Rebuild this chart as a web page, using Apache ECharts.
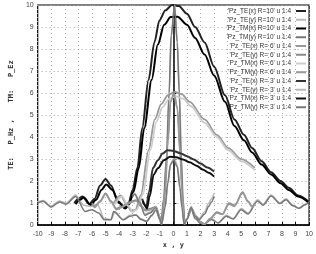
<!DOCTYPE html>
<html>
<head>
<meta charset="utf-8">
<script src="https://cdn.jsdelivr.net/npm/echarts@6/dist/echarts.min.js"></script>
<style>
  html, body { margin: 0; padding: 0; background: #fff; }
  #chart { width: 316px; height: 254px; }
</style>
</head>
<body>
<div id="chart"></div>
<script>
// legend names, in plot order
var names = [
    "'Pz_TE(x) R=10' u 1:4", "'Pz_TE(y) R=10' u 1:4",
    "'Pz_TM(x) R=10' u 1:4", "'Pz_TM(y) R=10' u 1:4",
    "'Pz_TE(x) R= 6' u 1:4", "'Pz_TE(y) R= 6' u 1:4",
    "'Pz_TM(x) R= 6' u 1:4", "'Pz_TM(y) R= 6' u 1:4",
    "'Pz_TE(x) R= 3' u 1:4", "'Pz_TE(y) R= 3' u 1:4",
    "'Pz_TM(x) R= 3' u 1:4", "'Pz_TM(y) R= 3' u 1:4"
];
var colors = ["#222", "#bbb", "#000", "#777", "#999", "#888",
              "#ccc", "#9a9a9a", "#333", "#bbb", "#111", "#777"];

// R=10
var te_x_10 = [[-7.3,1.0],[-7.0,1.2],[-6.7,1.3],[-6.2,0.95],[-5.8,1.2],[-5.4,1.8],[-5.0,2.1],[-4.6,1.8],[-4.1,1.1],[-3.6,0.8],[-3.3,1.0],[-3.0,1.6],[-2.65,2.6],[-2.3,4.4],[-1.83,6.6],[-1.4,8.3],[-1.03,9.3],[-0.6,9.75],[-0.1,10.0],[0.4,9.95],[1.0,9.6],[1.6,9.0],[2.3,8.3],[3.0,7.2],[3.8,5.9],[4.5,4.8],[5.2,4.1],[5.8,3.5],[6.5,2.9],[7.2,2.4],[7.9,2.0],[8.5,1.7],[9.2,1.35],[10.0,1.05]];
var te_y_10 = [[-10,1.05],[-9.6,1.12],[-9.0,0.85],[-8.4,1.1],[-7.9,1.0],[-7.2,1.37],[-6.6,0.9],[-6.1,0.85],[-5.6,0.95],[-5.1,0.3],[-4.6,0.25],[-4.3,0.6],[-3.7,0.25],[-3.2,0.45],[-2.75,0.46],[-2.4,0.3],[-2.0,0.17],[-1.6,0.4],[-1.3,0.7],[-1.0,0.3],[-0.9,0.05],[-0.7,1.2],[-0.5,3.0],[-0.3,6.0],[-0.15,8.6],[0.1,10],[0.3,8.3],[0.45,6.0],[0.6,3.0],[0.72,1.2],[0.85,0.05],[1.0,0.3],[1.3,0.8],[1.6,0.35],[2.0,0.1],[2.3,0.05],[2.8,0.3],[3.3,0.1],[3.9,0.45],[4.4,0.3],[5.0,0.75],[5.5,0.55],[6.2,1.15],[6.6,0.95],[7.2,1.37],[7.85,1.0],[8.3,1.2],[8.8,0.9],[9.25,0.78],[9.7,0.95],[10,1.07]];
var tm_x_10 = [[-7.2,0.95],[-6.9,1.15],[-6.6,1.25],[-6.1,0.92],[-5.7,1.15],[-5.3,1.6],[-4.95,1.85],[-4.5,1.6],[-4.0,1.0],[-3.55,0.75],[-3.25,0.95],[-2.95,1.5],[-2.55,2.6],[-2.15,4.4],[-1.6,6.6],[-1.15,8.2],[-0.68,9.1],[-0.2,9.45],[0.3,9.47],[1.0,9.1],[1.6,8.5],[2.3,7.75],[3.0,6.8],[3.8,5.6],[4.5,4.5],[5.2,3.85],[5.8,3.3],[6.5,2.75],[7.2,2.3],[7.9,1.9],[8.5,1.6],[9.2,1.3],[10.0,1.0]];
var tm_y_10 = [[-10,1.0],[-9.6,1.08],[-9.0,0.82],[-8.4,1.05],[-7.9,0.95],[-7.2,1.3],[-6.5,0.62],[-6.0,0.7],[-5.5,0.55],[-5.1,0.24],[-4.6,0.24],[-4.4,0.62],[-3.7,0.24],[-3.2,0.4],[-2.75,0.46],[-2.4,0.25],[-1.97,0.17],[-1.6,0.45],[-1.28,0.69],[-1.0,0.25],[-0.92,0.05],[-0.72,1.2],[-0.52,3.0],[-0.32,6.0],[-0.17,8.6],[0.08,9.95],[0.28,8.3],[0.43,6.0],[0.58,3.0],[0.7,1.2],[0.83,0.05],[1.0,0.25],[1.3,0.75],[1.6,0.3],[2.0,0.08],[2.3,0.05],[2.8,0.25],[3.3,0.1],[3.9,0.4],[4.4,0.28],[5.0,0.7],[5.5,0.5],[6.2,1.1],[6.6,0.9],[7.2,1.32],[7.85,0.98],[8.3,1.15],[8.8,0.88],[9.25,0.76],[9.7,0.92],[10,1.05]];

// R=6
var te_x_6 = [[-4.4,1.0],[-3.9,1.35],[-3.4,0.9],[-3.1,0.63],[-2.8,0.7],[-2.4,1.36],[-1.83,3.4],[-1.37,4.8],[-0.9,5.5],[-0.4,5.9],[0.1,6.05],[0.6,5.95],[1.2,5.6],[2.3,4.8],[3.2,4.1],[4.05,3.5],[5.0,3.0],[6.0,2.6]];
var te_y_6 = [[-6.0,1.0],[-5.8,0.85],[-5.4,1.1],[-5.0,1.45],[-4.6,1.1],[-4.2,0.75],[-3.8,0.85],[-3.4,1.0],[-3.0,1.1],[-2.75,1.14],[-2.4,0.9],[-2.06,0.69],[-1.7,0.75],[-1.28,0.85],[-1.0,0.4],[-0.85,0.05],[-0.6,1.5],[-0.4,3.8],[-0.2,5.6],[0.05,6.05],[0.3,5.3],[0.5,3.3],[0.65,1.5],[0.8,0.1],[1.0,0.3],[1.35,0.75],[1.7,0.4],[2.0,0.15],[2.3,0.05],[2.7,0.3],[3.2,0.6],[3.6,0.5],[4.1,1.0],[4.5,0.9],[5.1,1.5],[5.5,1.1],[5.8,0.85],[6.0,1.0]];
var tm_x_6 = [[-4.3,0.95],[-3.8,1.3],[-3.3,0.85],[-3.0,0.6],[-2.7,0.7],[-2.25,1.4],[-1.7,3.4],[-1.25,4.7],[-0.8,5.35],[-0.3,5.75],[0.2,5.85],[0.7,5.75],[1.3,5.4],[2.3,4.65],[3.2,4.0],[4.05,3.4],[5.0,2.9],[6.0,2.5]];
var tm_y_6 = [[-6.0,0.95],[-5.8,0.8],[-5.4,1.05],[-5.0,1.4],[-4.6,1.05],[-4.2,0.7],[-3.8,0.8],[-3.4,0.95],[-3.0,1.05],[-2.75,1.1],[-2.4,0.85],[-2.06,0.65],[-1.7,0.7],[-1.28,0.8],[-1.0,0.35],[-0.87,0.05],[-0.62,1.5],[-0.42,3.8],[-0.22,5.6],[0.03,5.95],[0.28,5.3],[0.48,3.3],[0.63,1.5],[0.78,0.1],[1.0,0.28],[1.35,0.7],[1.7,0.38],[2.0,0.12],[2.3,0.05],[2.7,0.28],[3.2,0.55],[3.6,0.48],[4.1,0.95],[4.5,0.85],[5.1,1.45],[5.5,1.05],[5.8,0.82],[6.0,0.95]];

// R=3
var te_x_3 = [[-2.3,1.2],[-2.15,0.95],[-2.0,0.8],[-1.8,1.5],[-1.5,2.6],[-1.14,2.95],[-0.8,3.25],[-0.45,3.4],[0,3.37],[0.5,3.27],[1.0,3.13],[1.5,2.98],[2.0,2.8],[2.5,2.62],[3.0,2.43]];
var te_y_3 = [[-3.0,1.35],[-2.85,1.45],[-2.5,1.1],[-2.1,0.5],[-1.7,0.6],[-1.3,0.85],[-1.0,0.35],[-0.85,0.05],[-0.6,0.8],[-0.4,1.9],[-0.2,2.8],[0.05,3.05],[0.3,2.7],[0.5,1.7],[0.65,0.8],[0.8,0.05],[1.0,0.3],[1.3,0.85],[1.6,0.45],[1.9,0.3],[2.3,0.6],[2.6,1.0],[2.8,1.2],[3.0,1.45]];
var tm_x_3 = [[-2.25,1.1],[-2.1,0.9],[-1.95,0.75],[-1.75,1.3],[-1.45,2.3],[-1.14,2.58],[-0.7,2.95],[-0.24,3.1],[0.2,3.08],[0.7,2.98],[1.2,2.85],[1.7,2.7],[2.2,2.52],[2.6,2.38],[3.0,2.2]];
var tm_y_3 = [[-3.0,1.3],[-2.85,1.4],[-2.5,1.05],[-2.1,0.45],[-1.7,0.55],[-1.3,0.8],[-1.0,0.3],[-0.87,0.05],[-0.62,0.8],[-0.42,1.9],[-0.22,2.75],[0.03,2.95],[0.28,2.65],[0.48,1.7],[0.63,0.8],[0.78,0.05],[1.0,0.28],[1.3,0.8],[1.6,0.4],[1.9,0.25],[2.3,0.5],[2.6,0.85],[2.8,1.05],[3.0,1.3]];

var seriesData = [te_x_10, te_y_10, tm_x_10, tm_y_10, te_x_6, te_y_6,
                  tm_x_6, tm_y_6, te_x_3, te_y_3, tm_x_3, tm_y_3];
var widths = [2, 1.5, 2, 1.5, 1.8, 1.5, 1.8, 1.5, 2, 1.5, 2, 1.5];

var myChart = echarts.init(document.getElementById("chart"));

var series = [];
for (var i = 0; i < names.length; i++) {
    series.push({
        name: names[i],
        type: "line",
        data: seriesData[i],
        symbol: "none",
        smooth: 0.3,
        smoothMonotone: "x",
        color: colors[i],
        lineStyle: { width: widths[i], color: colors[i] },
        silent: true
    });
}

var tickFont = { fontSize: 7, color: "#444", fontFamily: "Liberation Sans" };

var option = {
    animation: false,
    backgroundColor: "#fff",
    grid: { left: 22, right: 5, top: 5, bottom: 27, show: true,
            borderColor: "#000", borderWidth: 1.2, backgroundColor: "transparent" },
    legend: {
        data: names,
        orient: "vertical",
        right: 10,
        top: 7,
        align: "right",
        icon: "rect",
        itemWidth: 10,
        itemHeight: 2,
        itemGap: 0.75,
        padding: 0,
        textStyle: { fontSize: 6.5, lineHeight: 8, color: "#333", fontFamily: "Liberation Sans" }
    },
    xAxis: {
        type: "value", min: -10, max: 10, interval: 1,
        name: "x , y", nameLocation: "middle", nameGap: 15,
        nameTextStyle: { fontSize: 7, fontWeight: "bold", fontFamily: "DejaVu Sans Mono", color: "#333" },
        axisLine: { lineStyle: { color: "#000", width: 1.5 } },
        axisTick: { inside: true, length: 3, lineStyle: { color: "#000" } },
        axisLabel: Object.assign({ margin: 5 }, tickFont),
        splitLine: { show: true, lineStyle: { color: "#aaa", type: [1, 3], width: 1 } }
    },
    yAxis: {
        type: "value", min: 0, max: 10, interval: 1,
        name: "TE:   P_Hz ,    TM:   P_Ez", nameLocation: "middle", nameGap: 11,
        nameTextStyle: { fontSize: 7, fontWeight: "bold", fontFamily: "DejaVu Sans Mono", color: "#333" },
        axisLine: { lineStyle: { color: "#000", width: 1.5 } },
        axisTick: { inside: true, length: 3, lineStyle: { color: "#000" } },
        axisLabel: Object.assign({ margin: 4 }, tickFont),
        splitLine: { show: true, lineStyle: { color: "#aaa", type: [1, 3], width: 1 } }
    },
    series: series
};
myChart.setOption(option);
</script>
</body>
</html>
